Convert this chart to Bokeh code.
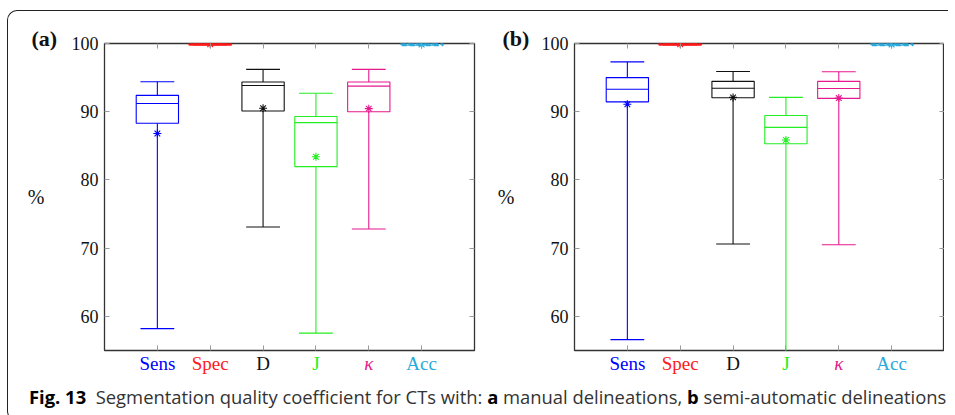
from bokeh.plotting import figure
from bokeh.models import FixedTicker, LinearAxis, Div, Range1d, Title, ColumnDataSource
from bokeh.layouts import row, column
from bokeh.embed import file_html
from bokeh.resources import INLINE

categories = ["Sens", "Spec", "D", "J", "κ", "Acc"]
cat_colors = ["#0000ff", "#ff1a1a", "#111111", "#22ee22", "#e6198c", "#29a9dc"]
cat_styles = ["normal", "normal", "normal", "normal", "italic", "normal"]
y_ticks = [60, 70, 80, 90, 100]

# panel (a): manual delineations
a_lo = [58.2, 99.8, 73.1, 57.55, 72.8, 99.75]
a_q1 = [88.3, 99.8, 90.1, 81.95, 90.0, 99.75]
a_med = [91.2, 99.9, 93.85, 88.4, 93.75, 99.9]
a_q3 = [92.4, 100.0, 94.35, 89.3, 94.35, 100.0]
a_hi = [94.4, 100.0, 96.2, 92.7, 96.2, 100.0]
a_mean = [86.8, 99.9, 90.5, 83.4, 90.45, 99.85]

# panel (b): semi-automatic delineations
b_lo = [56.6, 99.8, 70.6, 50.0, 70.5, 99.75]
b_q1 = [91.45, 99.8, 92.05, 85.3, 91.95, 99.75]
b_med = [93.3, 99.9, 93.45, 87.7, 93.4, 99.9]
b_q3 = [95.0, 100.0, 94.45, 89.45, 94.45, 100.0]
b_hi = [97.3, 100.0, 95.9, 92.1, 95.85, 100.0]
b_mean = [91.1, 99.9, 92.1, 85.85, 92.0, 99.85]

SERIF = "'Liberation Serif'"
AXIS_FONT = "Liberation Serif"
FW = 370


def make_panel(tag, lo, q1, med, q3, hi, mean, left_border, right_border, tag_offset):
    xs = list(range(1, len(categories) + 1))
    xr = Range1d(0, 7)
    p = figure(frame_width=FW, frame_height=307,
               min_border_left=left_border, min_border_right=right_border,
               min_border_top=32, min_border_bottom=2,
               x_range=xr, y_range=Range1d(55, 100),
               output_backend="svg", toolbar_location=None)
    p.grid.visible = False
    p.outline_line_color = "#333333"
    p.outline_line_width = 1.3
    p.border_fill_color = None

    ya = p.yaxis[0]
    ya.ticker = FixedTicker(ticks=y_ticks)
    ya.major_tick_in = 5
    ya.major_tick_out = 0
    ya.minor_tick_line_color = None
    ya.major_tick_line_color = "#999999"
    ya.axis_line_color = None
    ya.major_label_text_font = AXIS_FONT
    ya.major_label_text_font_size = "18px"
    ya.major_label_text_color = "#111111"
    ya.major_label_standoff = 6
    ya.axis_label = "%"
    ya.axis_label_orientation = "horizontal"
    ya.axis_label_text_font = AXIS_FONT
    ya.axis_label_text_font_style = "normal"
    ya.axis_label_text_font_size = "20px"
    ya.axis_label_text_color = "#111111"
    ya.axis_label_standoff = 24

    xa = p.xaxis[0]
    xa.ticker = FixedTicker(ticks=xs)
    xa.major_label_overrides = {x: "" for x in xs}
    xa.major_label_standoff = 0
    xa.major_tick_in = 5
    xa.major_tick_out = 0
    xa.minor_tick_line_color = None
    xa.major_tick_line_color = "#999999"
    xa.axis_line_color = None

    top = LinearAxis(ticker=FixedTicker(ticks=xs),
                     major_label_overrides={x: "" for x in xs},
                     major_tick_in=5, major_tick_out=0, major_label_standoff=0,
                     minor_tick_line_color=None, major_tick_line_color="#999999",
                     axis_line_color=None)
    p.add_layout(top, "above")
    right = LinearAxis(ticker=FixedTicker(ticks=y_ticks),
                       major_label_overrides={y: "" for y in y_ticks},
                       major_tick_in=5, major_tick_out=0, major_label_standoff=0,
                       minor_tick_line_color=None, major_tick_line_color="#999999",
                       axis_line_color=None)
    p.add_layout(right, "right")

    for i, x in enumerate(xs):
        c = cat_colors[i]
        name = categories[i]
        dash = "solid"
        lw = 1.1
        if name == "Spec":
            lw = 1.6
        if name == "Acc":
            dash = "5 3"
            lw = 2.0
        p.segment(x0=[x], y0=[q3[i]], x1=[x], y1=[hi[i]], line_color=c, line_width=1.1)
        p.segment(x0=[x], y0=[q1[i]], x1=[x], y1=[lo[i]], line_color=c, line_width=1.1)
        p.segment(x0=[x - 0.32], y0=[hi[i]], x1=[x + 0.32], y1=[hi[i]], line_color=c, line_width=1.1, line_dash=dash)
        p.segment(x0=[x - 0.32], y0=[lo[i]], x1=[x + 0.32], y1=[lo[i]], line_color=c, line_width=1.1, line_dash=dash)
        p.quad(left=[x - 0.4], right=[x + 0.4], bottom=[q1[i]], top=[q3[i]],
               fill_color=None, line_color=c, line_width=lw, line_dash=dash)
        p.segment(x0=[x - 0.4], y0=[med[i]], x1=[x + 0.4], y1=[med[i]], line_color=c, line_width=lw, line_dash=dash)
        p.scatter(x=[x], y=[mean[i]], marker="asterisk", size=8, line_color=c, line_width=1.1)

    t = Title(text=tag, align="left", offset=tag_offset, text_font=SERIF,
              text_font_size="22px", text_font_style="bold", text_color="#111111",
              standoff=-15)
    p.add_layout(t, "above")

    s = figure(frame_width=FW, height=24, min_border_left=left_border, min_border_right=right_border,
               min_border_top=0, min_border_bottom=0,
               x_range=xr, y_range=Range1d(0, 1), output_backend="svg", toolbar_location=None)
    s.axis.visible = False
    s.grid.visible = False
    s.outline_line_color = None
    s.border_fill_color = None
    src = ColumnDataSource(dict(x=xs, name=categories, color=cat_colors, style=cat_styles))
    s.text(x="x", y=0.55, text="name", source=src, text_color="color", text_font_style="style",
           text_align="center", text_baseline="middle", text_font={"value": SERIF},
           text_font_size={"value": "19px"})
    return column(p, s, spacing=0)


pa = make_panel("(a)", a_lo, a_q1, a_med, a_q3, a_hi, a_mean, 96, 20, -73)
pb = make_panel("(b)", b_lo, b_q1, b_med, b_q3, b_hi, b_mean, 80, 0, -72)

caption = Div(
    text=("<b style='color:#000'>Fig. 13</b>&nbsp;&nbsp;Segmentation quality coefficient for CTs with: "
          "<b style='color:#000'>a</b> manual delineations, <b style='color:#000'>b</b> semi-automatic delineations"),
    width=930, height=34,
    styles={"font-family": "'Open Sans'", "font-size": "18.4px", "color": "#333333",
            "padding-left": "16px", "padding-top": "5px", "line-height": "22px", "white-space": "nowrap",
            "box-sizing": "border-box"})

layout = column(row(pa, pb), caption,
                styles={"border-left": "1.3px solid #222222", "border-top": "1.3px solid #222222",
                        "border-bottom": "1.3px solid #222222",
                        "border-top-left-radius": "10px", "border-bottom-left-radius": "10px",
                        "margin-left": "7px", "margin-top": "10px", "background": "white"})

open("out.html", "w").write(file_html(layout, INLINE))
